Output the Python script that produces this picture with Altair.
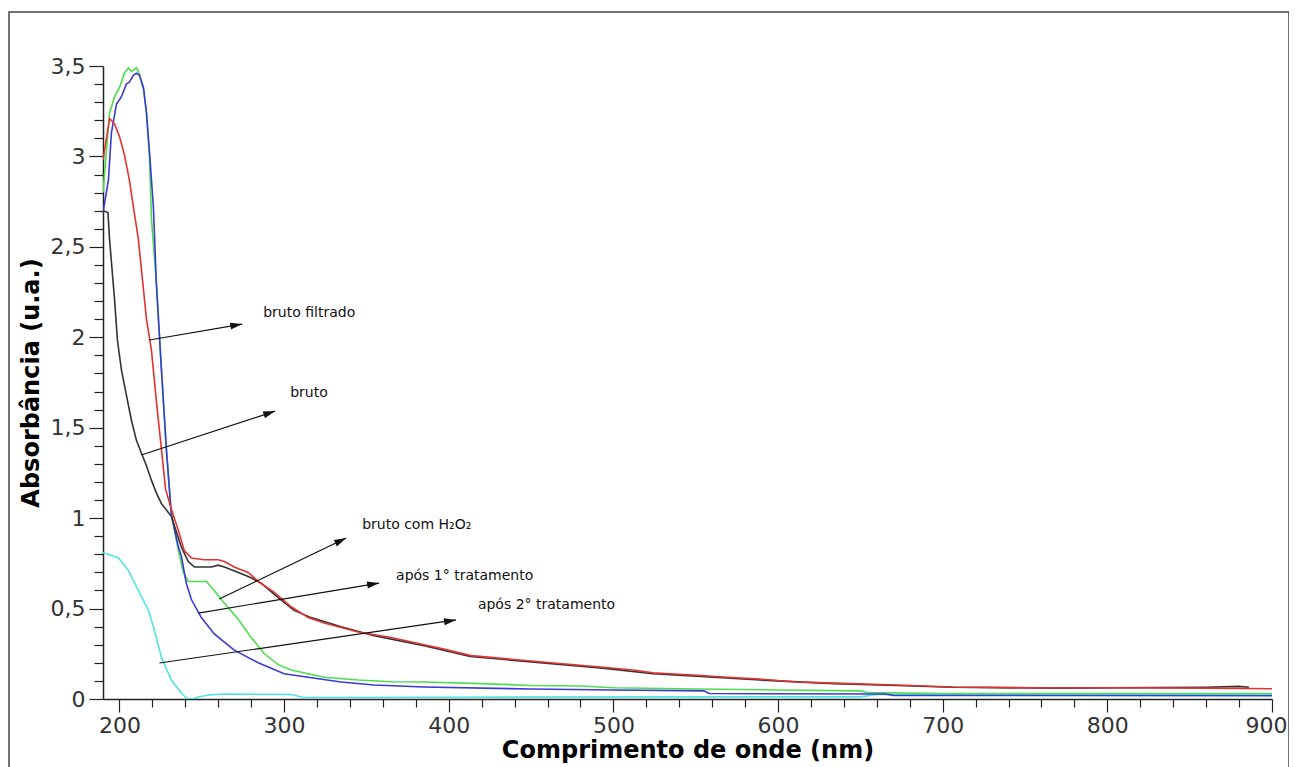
import math
import altair as alt
import pandas as pd

# ---------------- data ----------------
red_nm = [190, 194, 197, 200, 203, 206, 208.5, 211.5, 216.4, 219.4, 222.4, 225.5, 228, 231.5,
          235.8, 239.4, 243.7, 251.5, 260, 263.7, 269.7, 278.2, 284.3, 294, 304.3, 314.6, 324.3,
          345, 365, 385, 395, 413.5, 450, 492, 512, 524, 553, 569, 589, 611, 634, 672, 706, 767,
          797, 860, 900]
red_a = [2.98, 3.21, 3.18, 3.11, 3.01, 2.87, 2.72, 2.54, 2.10, 1.93, 1.65, 1.38, 1.16, 1.05,
         0.93, 0.82, 0.78, 0.77, 0.77, 0.76, 0.73, 0.70, 0.65, 0.59, 0.51, 0.45, 0.42,
         0.37, 0.34, 0.30, 0.28, 0.24, 0.21, 0.177, 0.16, 0.145, 0.13, 0.12, 0.11, 0.094, 0.088,
         0.077, 0.066, 0.061, 0.062, 0.06, 0.057]

black_nm = [190, 193, 194, 195, 197, 198.8, 201.2, 204.2, 207.3, 210.3, 213.3, 216.4, 219.4,
            222.4, 225.5, 231.5, 237.6, 241.8, 245.5, 255.8, 260, 263.7, 272.2, 280, 286,
            296.4, 306, 316.4, 334.6, 354.6, 385, 413, 450, 492, 524, 553, 589, 634, 672, 706,
            767, 860, 880, 886]
black_a = [2.70, 2.69, 2.54, 2.43, 2.21, 1.98, 1.82, 1.68, 1.54, 1.43, 1.36, 1.29, 1.21,
           1.14, 1.08, 1.01, 0.84, 0.76, 0.73, 0.73, 0.74, 0.73, 0.70, 0.67, 0.64,
           0.56, 0.49, 0.45, 0.40, 0.35, 0.295, 0.235, 0.205, 0.172, 0.14, 0.125, 0.105, 0.085,
           0.075, 0.065, 0.06, 0.065, 0.07, 0.065]

green_nm = [190, 194, 197, 200, 203, 205.5, 207.3, 210.3, 211.5, 214.6, 216.4, 218.2, 219.4,
            222.4, 225.5, 228.5, 231.5, 235.8, 238.8, 241.8, 247.9, 252.8, 257.6, 263.7, 272.2,
            280, 288, 296.4, 304.3, 324.3, 345, 365, 385, 420, 450, 480, 500, 550, 600, 650,
            655, 700, 900]
green_a = [2.80, 3.24, 3.33, 3.38, 3.46, 3.49, 3.47, 3.49, 3.47, 3.37, 3.24, 3.0, 2.66,
           2.30, 1.82, 1.38, 1.02, 0.82, 0.70, 0.65, 0.65, 0.65, 0.60, 0.53, 0.44,
           0.34, 0.25, 0.19, 0.16, 0.12, 0.105, 0.095, 0.094, 0.085, 0.075, 0.072, 0.062, 0.055,
           0.05, 0.045, 0.035, 0.03, 0.03]

blue_nm = [190, 193.3, 195.1, 198.2, 201.2, 204.2, 206, 208.5, 210.3, 212.1, 214.6, 216.4,
           218.2, 220.6, 222.4, 225.5, 228.5, 231.5, 235.8, 237.6, 240.6, 243.7, 249.7, 257.6,
           269.7, 284.3, 300, 314.6, 334.6, 354.6, 385, 450, 500, 555, 558, 665, 670, 900]
blue_a = [2.69, 2.87, 3.13, 3.29, 3.33, 3.40, 3.41, 3.45, 3.46, 3.45, 3.38, 3.24,
          3.03, 2.72, 2.30, 1.82, 1.38, 1.02, 0.84, 0.79, 0.64, 0.55, 0.45, 0.36,
          0.27, 0.20, 0.14, 0.12, 0.094, 0.077, 0.066, 0.055, 0.05, 0.045, 0.03, 0.028, 0.02, 0.018]

cyan_nm = [190, 199.4, 205.5, 211.5, 217.6, 221.2, 225.5, 231.5, 237.6, 240.6, 244, 247.9,
           254, 263.7, 304.3, 312, 400, 650, 660, 900]
cyan_a = [0.81, 0.78, 0.71, 0.60, 0.49, 0.38, 0.23, 0.105, 0.033, 0.005, 0.0, 0.011,
          0.022, 0.028, 0.025, 0.008, 0.01, 0.012, 0.025, 0.025]

series_names = ["após 2° tratamento", "bruto com H₂O₂", "após 1° tratamento", "bruto", "bruto filtrado"]
series_nm = [cyan_nm, green_nm, blue_nm, black_nm, red_nm]
series_a = [cyan_a, green_a, blue_a, black_a, red_a]
series_colors = ["#4fe3e3", "#4ddd4d", "#3a3ad6", "#333333", "#e23232"]

# annotations: label text, arrow start (nm, A), arrow end (nm, A), text anchor (nm, A)
ann_text = ["bruto filtrado", "bruto", "bruto com H₂O₂", "após 1° tratamento", "após 2° tratamento"]
ann_x1 = [218.2, 213.3, 260.6, 247.9, 224.3]
ann_y1 = [1.985, 1.349, 0.553, 0.475, 0.199]
ann_x2 = [274.6, 294.6, 337.7, 357.7, 404.4]
ann_y2 = [2.073, 1.592, 0.890, 0.641, 0.437]
ann_tx = [287.3, 303.7, 347.4, 368.0, 417.7]
ann_ty = [2.134, 1.692, 0.962, 0.680, 0.520]

x_ticks = list(range(200, 901, 20))
y_ticks = [round(i * 0.1, 1) for i in range(0, 36)]

# ---------------- chart ----------------
W, H = 1169, 633
XDOM, YDOM = [190, 900], [0, 3.5]
FONT = "DejaVu Sans"

rows = []
for name, xs, ys in zip(series_names, series_nm, series_a):
    for x, y in zip(xs, ys):
        rows.append({"serie": name, "nm": x, "A": y})
df = pd.DataFrame(rows)

xscale = alt.Scale(domain=XDOM, nice=False, zero=False)
yscale = alt.Scale(domain=YDOM, nice=False, zero=False)

x_axis = alt.Axis(
    values=x_ticks,
    labelExpr="datum.value % 100 === 0 ? datum.label : ''",
    tickSize={"condition": {"test": "datum.value % 100 === 0", "value": 13}, "value": 8},
    labelOffset={"condition": {"test": "datum.value === 900", "value": -6}, "value": 0},
    title="Comprimento de onde (nm)",
    titleFont=FONT, titleFontSize=24, titleFontWeight="bold", titleColor="#000",
    labelFont=FONT, labelFontSize=22, labelColor="#333", labelPadding=3,
    labelOverlap=False, labelFlush=False, titlePadding=2,
    grid=False, domainColor="#222", domainWidth=1.5, tickColor="#222", tickWidth=1.2,
)
y_axis = alt.Axis(
    values=y_ticks,
    labelExpr="abs(datum.value*2 - round(datum.value*2)) < 0.001 ? replace(format(datum.value, '~g'), '.', ',') : ''",
    tickSize={"condition": {"test": "abs(datum.value*2 - round(datum.value*2)) < 0.001", "value": 14}, "value": 9},
    title="Absorbância (u.a.)",
    titleFont=FONT, titleFontSize=24, titleFontWeight="bold", titleColor="#000",
    labelFont=FONT, labelFontSize=22, labelColor="#333", labelPadding=4,
    labelOverlap=False, titlePadding=7,
    grid=False, domainColor="#222", domainWidth=1.5, tickColor="#222", tickWidth=1.2,
)


def X(field):
    return alt.X(field, type="quantitative", scale=xscale, axis=x_axis)


def Y(field):
    return alt.Y(field, type="quantitative", scale=yscale, axis=y_axis)


layers = []
for name, col in zip(series_names, series_colors):
    ch = alt.Chart(df).transform_filter(alt.datum.serie == name).mark_line(
        strokeWidth=1.6, color=col, clip=True
    ).encode(
        x=X("nm"),
        y=Y("A"),
        order=alt.Order("nm:Q"),
    )
    layers.append(ch)

px_per_x = W / (XDOM[1] - XDOM[0])
px_per_y = H / (YDOM[1] - YDOM[0])
angles = []
for x1, y1, x2, y2 in zip(ann_x1, ann_y1, ann_x2, ann_y2):
    dx = (x2 - x1) * px_per_x
    dy = -(y2 - y1) * px_per_y
    angles.append(math.degrees(math.atan2(dx, -dy)) % 360)

ann = pd.DataFrame({"t": ann_text, "x1": ann_x1, "y1": ann_y1, "x2": ann_x2, "y2": ann_y2,
                    "tx": ann_tx, "ty": ann_ty, "ang": angles})

arrows = alt.Chart(ann).mark_rule(color="#111", strokeWidth=1.2).encode(
    x=X("x1"), y=Y("y1"), x2="x2:Q", y2="y2:Q"
)
heads = alt.Chart(ann).mark_point(
    shape="M0,0L-0.7,2.4L0.7,2.4Z", filled=True, color="#111", size=100, opacity=1
).encode(
    x=X("x2"), y=Y("y2"),
    angle=alt.Angle("ang:Q", scale=None),
)
labels = alt.Chart(ann).mark_text(
    align="left", baseline="middle", font=FONT, fontSize=14, color="#111"
).encode(
    x=X("tx"), y=Y("ty"), text="t:N"
)

frame = alt.Chart(alt.Data(values=[{}])).mark_rect(
    filled=False, stroke="#444", strokeWidth=1.5
).encode(
    x=alt.value(-94), x2=alt.value(1186), y=alt.value(-54), y2=alt.value(740)
)

chart = alt.layer(*layers, arrows, heads, labels, frame).properties(
    width=W, height=H,
    autosize=alt.AutoSizeParams(type="none"),
    padding={"left": 95, "top": 58, "right": 17, "bottom": 68},
).configure(font=FONT).configure_view(stroke="transparent", strokeWidth=0)

chart.save("out.html", embed_options={"renderer": "svg", "actions": False})
